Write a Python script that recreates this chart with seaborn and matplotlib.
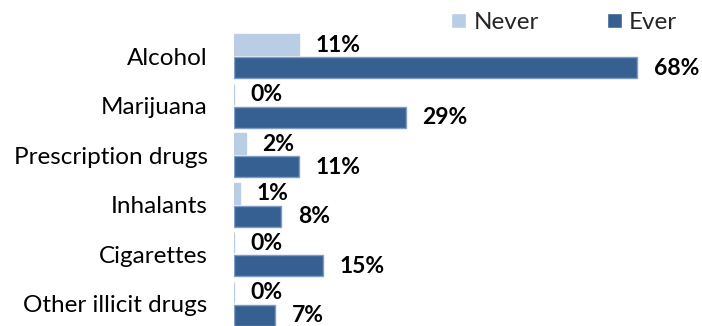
import matplotlib
matplotlib.use("Agg")
import matplotlib.pyplot as plt
import pandas as pd
import seaborn as sns

categories = ["Alcohol", "Marijuana", "Prescription drugs", "Inhalants",
              "Cigarettes", "Other illicit drugs"]
never_pct = [11, 0, 2, 1, 0, 0]
ever_pct = [68, 29, 11, 8, 15, 7]
groups = ["Never", "Ever"]
palette = {"Never": "#B9CDE5", "Ever": "#376092"}
edges = {"Never": "#B9CDE5", "Ever": "#7F9CC3"}

df = pd.DataFrame({
    "substance": categories * 2,
    "group": ["Never"] * len(categories) + ["Ever"] * len(categories),
    "pct": never_pct + ever_pct,
})

sns.set_theme(style="white")
plt.rcParams["font.family"] = ["Lato", "DejaVu Sans"]

fig = plt.figure(figsize=(7.02, 3.26), dpi=100)
ax = fig.add_axes([234 / 702, -0.0074, 468 / 702, 0.911])

sns.barplot(data=df, y="substance", x="pct", hue="group", order=categories,
            hue_order=groups, palette=palette, orient="h", width=0.93,
            gap=0.09, saturation=1, legend=False, ax=ax)

for cont, g in zip(ax.containers, groups):
    for bar in cont:
        bar.set_edgecolor(edges[g])
        bar.set_linewidth(1.0)
    for bar, v in zip(cont, cont.datavalues):
        y = bar.get_y() + bar.get_height() / 2
        ax.annotate(f"{v:.0f}%", xy=(bar.get_width(), y), xytext=(12, -0.5),
                    textcoords="offset points", ha="left", va="center",
                    fontsize=16.5, fontweight="bold", color="black")

ax.set_xlim(0, 468 / (403 / 68))
ax.set_ylim(5.5, -0.5)
ax.set_xlabel("")
ax.set_ylabel("")
ax.set_xticks([])
ax.tick_params(axis="y", length=0, pad=19, labelsize=17.5, colors="black")
sns.despine(ax=ax, left=True, bottom=True)

handles = [plt.Rectangle((0, 0), 1, 1, facecolor=palette[g]) for g in groups]
fig.legend(handles, groups, loc="center left",
           bbox_to_anchor=(451 / 702, 1 - 22.5 / 326),
           bbox_transform=fig.transFigure, ncol=2, frameon=False,
           fontsize=17.5, handlelength=0.62, handleheight=0.62,
           handletextpad=0.3, columnspacing=2.8, borderpad=0,
           borderaxespad=0)

fig.savefig("out.png", dpi=100)
